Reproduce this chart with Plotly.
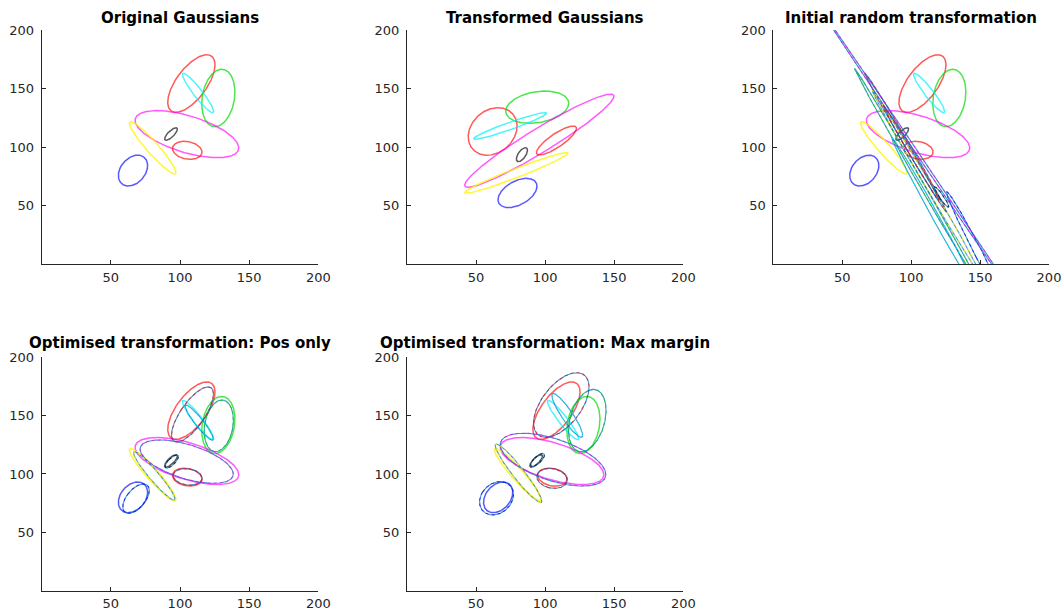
import numpy as np
import plotly.graph_objects as go

# ---------------- data ----------------
# Gaussian order: blue, red (large), green, cyan, magenta, yellow, black (small), red (small)
colors = ["blue", "red", "green", "cyan", "magenta", "yellow", "black", "red"]

# Original Gaussians: centre and contour shape matrix [sxx, sxy; sxy, syy]
orig_cx = [66.0, 108.2, 127.7, 113.0, 105.0, 80.2, 93.5, 105.2]
orig_cy = [80.0, 154.3, 142.0, 146.2, 111.1, 99.4, 111.2, 97.3]
orig_sxx = [112, 292, 144, 128, 1406, 285, 21, 114]
orig_syy = [174, 605, 600, 282, 404, 497, 29, 59]
orig_sxy = [45, 273, 59, -178, -440, -355, 19, -16]

# Transformed Gaussians
tr_cx = [80.0, 62.0, 94.3, 74.6, 95.8, 79.2, 83.2, 108.2]
tr_cy = [60.9, 113.4, 134.1, 118.1, 105.5, 78.0, 93.6, 105.7]
tr_sxx = [199, 313, 520, 692, 2916, 1399, 16, 210]
tr_syy = [156, 412, 190, 130, 1584, 303, 36, 154]
tr_sxy = [81, 79, 76, 287, 2050, 632, 15, 150]

# Initial random transformation applied to the transformed Gaussians
rnd_cx = [150.0, 96.0, 103.0, 118.0, 97.0, 112.0, 122.0, 100.0]
rnd_cy = [7.0, 104.0, 77.2, 40.0, 108.0, 68.0, 57.5, 95.0]
rnd_sxx = [591.5, 874.4, 1938.8, 1022.8, 6362.4, 1623.9, 27.72, 406.8]
rnd_syy = [3017.5, 3485.6, 8064.6, 4608.3, 19238.7, 6481.0, 74.84, 1620.5]
rnd_sxy = [-1323.8, -1740.8, -3950.1, -2163.0, -11062.5, -3238.1, -42.65, -809.1]

# Optimised transformation: position only
pos_cx = [68.2, 109.0, 128.0, 113.9, 104.8, 81.3, 94.0, 105.5]
pos_cy = [78.9, 151.0, 141.3, 144.0, 110.6, 98.4, 110.6, 97.5]
pos_sxx = [92, 230, 112, 104, 1136, 225, 23, 110]
pos_syy = [159, 560, 490, 225, 346, 428, 32.5, 50]
pos_sxy = [67, 265, 50, -142, -359, -295, 20.5, -12]

# Optimised transformation: max margin
mm_cx = [64.8, 111.7, 130.5, 116.0, 105.7, 80.7, 94.5, 105.0]
mm_cy = [79.2, 159.1, 145.8, 150.2, 112.3, 100.6, 112.0, 96.3]
mm_sxx = [151, 404, 185, 125, 1459, 286, 25, 121]
mm_syy = [204, 767, 713, 353, 511, 630, 32, 74]
mm_sxy = [39, 310, 117, -190, -484, -403, 21, -15]

titles = ["Original Gaussians", "Transformed Gaussians", "Initial random transformation",
          "Optimised transformation: Pos only", "Optimised transformation: Max margin"]
tick_vals = [50, 100, 150, 200]
axis_range = [0, 200]

# ---------------- style ----------------
rgba = {
    "blue": "rgba(0,0,255,0.65)", "red": "rgba(255,0,0,0.65)", "green": "rgba(0,220,0,0.7)",
    "cyan": "rgba(0,240,255,0.7)", "magenta": "rgba(255,0,255,0.65)", "yellow": "rgba(255,245,0,0.8)",
    "black": "rgba(0,0,0,0.65)",
}
tr_line = "rgba(0,114,189,0.75)"

x_domains = [[0.0392, 0.2992], [0.3825, 0.6422], [0.7268, 0.9859],
             [0.0392, 0.2992], [0.3825, 0.6422]]
y_domains = [[0.5681, 0.9510]] * 3 + [[0.0348, 0.4162]] * 2
title_shift = [1, 1, 1, 3, 3]

t = np.linspace(0, 2 * np.pi, 361)


def ellipse(cx, cy, sxx, syy, sxy):
    S = np.array([[sxx, sxy], [sxy, syy]], dtype=float)
    vals, vecs = np.linalg.eigh(S)
    vals = np.clip(vals, 1e-6, None)
    pts = vecs @ np.diag(np.sqrt(vals)) @ np.vstack([np.cos(t), np.sin(t)])
    return cx + pts[0], cy + pts[1]


fig = go.Figure()


def add_set(k, cx, cy, sxx, syy, sxy, transformed=False):
    xa = "x" if k == 0 else f"x{k+1}"
    ya = "y" if k == 0 else f"y{k+1}"
    for i in range(len(cx)):
        ex, ey = ellipse(cx[i], cy[i], sxx[i], syy[i], sxy[i])
        if transformed:
            fig.add_trace(go.Scatter(x=ex, y=ey, mode="lines", xaxis=xa, yaxis=ya,
                                     line=dict(color=tr_line, width=1.1), hoverinfo="skip"))
            fig.add_trace(go.Scatter(x=ex, y=ey, mode="lines", xaxis=xa, yaxis=ya,
                                     line=dict(color=rgba[colors[i]], width=1.1, dash="dot"),
                                     hoverinfo="skip"))
        else:
            fig.add_trace(go.Scatter(x=ex, y=ey, mode="lines", xaxis=xa, yaxis=ya,
                                     line=dict(color=rgba[colors[i]], width=1.5), hoverinfo="skip"))


add_set(0, orig_cx, orig_cy, orig_sxx, orig_syy, orig_sxy)
add_set(1, tr_cx, tr_cy, tr_sxx, tr_syy, tr_sxy)
add_set(2, orig_cx, orig_cy, orig_sxx, orig_syy, orig_sxy)
add_set(2, rnd_cx, rnd_cy, rnd_sxx, rnd_syy, rnd_sxy, transformed=True)
add_set(3, orig_cx, orig_cy, orig_sxx, orig_syy, orig_sxy)
add_set(3, pos_cx, pos_cy, pos_sxx, pos_syy, pos_sxy, transformed=True)
add_set(4, orig_cx, orig_cy, orig_sxx, orig_syy, orig_sxy)
add_set(4, mm_cx, mm_cy, mm_sxx, mm_syy, mm_sxy, transformed=True)

axis_style = dict(range=axis_range, autorange=False, automargin=False, showgrid=False,
                  zeroline=False, showline=True, linecolor="#262626", linewidth=1, mirror=False,
                  ticks="inside", ticklen=4, tickwidth=1, tickcolor="#262626",
                  tickvals=tick_vals, tickfont=dict(size=13, color="#262626",
                                                    family="DejaVu Sans"),
                  fixedrange=True)

layout = dict(template="none", width=1064, height=612, margin=dict(l=0, r=0, t=0, b=0),
              paper_bgcolor="white", plot_bgcolor="white", showlegend=False,
              font=dict(family="DejaVu Sans"))
annotations = []
for k in range(5):
    xk = "xaxis" if k == 0 else f"xaxis{k+1}"
    yk = "yaxis" if k == 0 else f"yaxis{k+1}"
    ya = "y" if k == 0 else f"y{k+1}"
    xa = "x" if k == 0 else f"x{k+1}"
    layout[xk] = dict(axis_style, domain=x_domains[k], anchor=ya, ticklabelstandoff=1)
    layout[yk] = dict(axis_style, domain=y_domains[k], anchor=xa, ticklabelstandoff=4)
    annotations.append(dict(text=f"<b>{titles[k]}</b>", xref="paper", yref="paper",
                            x=sum(x_domains[k]) / 2, y=y_domains[k][1],
                            xanchor="center", yanchor="bottom", yshift=title_shift[k],
                            showarrow=False,
                            font=dict(size=15, color="black", family="DejaVu Sans")))
layout["annotations"] = annotations
fig.update_layout(**layout)

fig.write_html("out.html", config={"displayModeBar": False},
               post_script="document.body.style.margin='0';document.body.style.overflow='hidden';")
